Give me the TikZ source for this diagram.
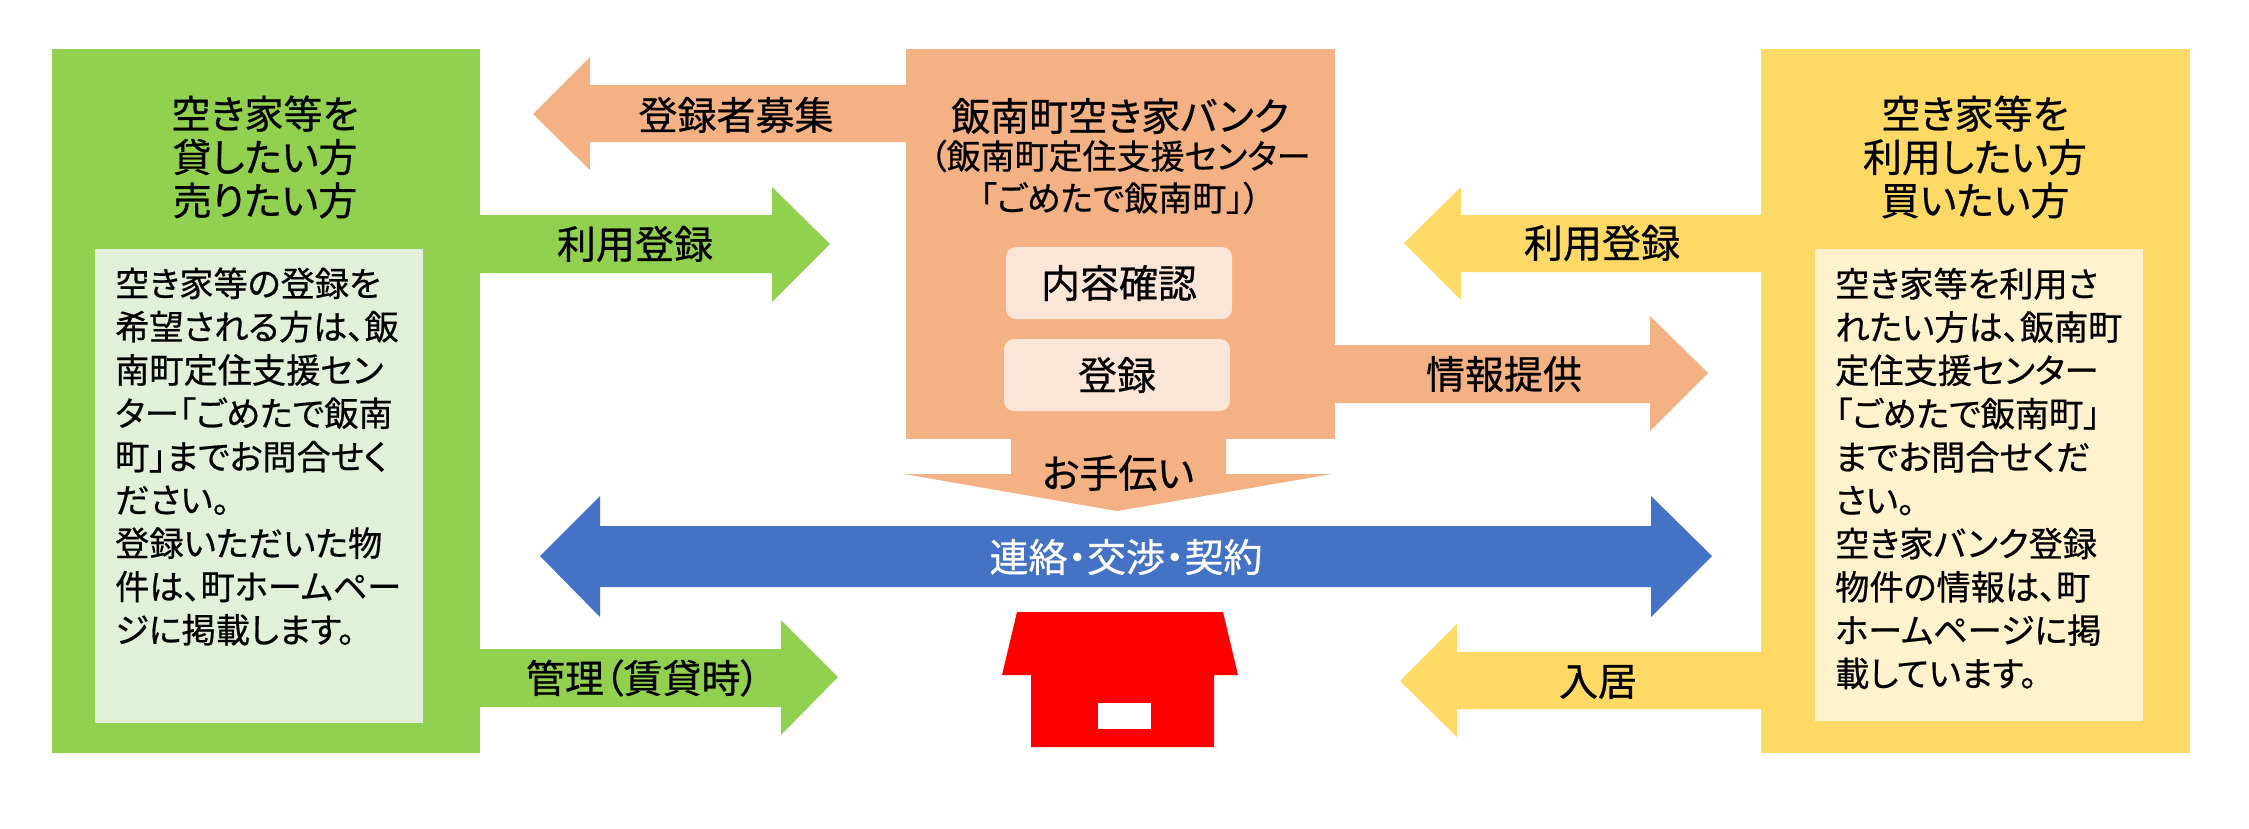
\documentclass[tikz,border=0pt]{standalone}
\usepackage{fontspec}
\setmainfont{Noto Sans CJK JP}[RawFeature=+palt,FakeBold=0.6]
\definecolor{cgreen}{HTML}{92D050}
\definecolor{lgreen}{HTML}{E2EFD9}
\definecolor{corange}{HTML}{F4B183}
\definecolor{lorange}{HTML}{FBE5D6}
\definecolor{cyellow}{HTML}{FFD966}
\definecolor{lyellow}{HTML}{FFF2CC}
\definecolor{cblue}{HTML}{4472C4}
\tikzset{
  panel/.style={inner sep=0pt,outer sep=0pt,draw=none},
  softbox/.style={panel,rounded corners=10pt,fill=lorange},
  bigtext/.style={inner sep=0pt,align=center,font=\fontsize{39}{43.3}\selectfont},
  subtext/.style={inner sep=0pt,align=center,font=\fontsize{34}{42}\selectfont},
  bodytext/.style={inner sep=0pt,align=left,anchor=west,font=\fontsize{34.2}{43.3}\selectfont},
}
\newcommand{\boxat}[7]{\node[panel,fill=#7,minimum width=#5-#3,minimum height=#6-#4,anchor=north west] (#1) at (#3,#4) {};}
\begin{document}
\begin{tikzpicture}[x=1pt,y=-1pt]
\useasboundingbox (0,0) rectangle (2249,828);
% block arrows
\fill[corange] (907,85) -- (590,85) -- (590,57) -- (533,114) -- (590,170) -- (590,142) -- (907,142) -- cycle;
\fill[cgreen] (480,215) -- (772,215) -- (772,187) -- (830,244) -- (772,302) -- (772,273) -- (480,273) -- cycle;
\fill[cgreen] (480,649) -- (781,649) -- (781,620) -- (838,677) -- (781,735) -- (781,707) -- (480,707) -- cycle;
\fill[cyellow] (1761,215) -- (1461,215) -- (1461,187) -- (1404,243) -- (1461,300) -- (1461,272) -- (1761,272) -- cycle;
\fill[cyellow] (1761,652) -- (1457,652) -- (1457,624) -- (1400,681) -- (1457,737) -- (1457,709) -- (1761,709) -- cycle;
\fill[corange] (1335,345) -- (1650,345) -- (1650,316) -- (1708,373) -- (1650,431) -- (1650,403) -- (1335,403) -- cycle;
\fill[corange] (1011,439) -- (1226,439) -- (1226,474) -- (1332,474) -- (1117,511) -- (904,474) -- (1011,474) -- cycle;
\fill[cblue] (540,556) -- (600,496) -- (600,526) -- (1651,526) -- (1651,496) -- (1712,556) -- (1651,617) -- (1651,587) -- (600,587) -- (600,617) -- cycle;
% panels
\boxat{greenbox}{}{52}{49}{480}{753}{cgreen}
\boxat{greeninner}{}{95}{249}{423}{723}{lgreen}
\boxat{yellowbox}{}{1761}{49}{2190}{753}{cyellow}
\boxat{yellowinner}{}{1815}{249}{2143}{721}{lyellow}
\boxat{bankbox}{}{906}{49}{1335}{439}{corange}
\node[softbox,minimum width=226pt,minimum height=72pt] (check) at (1119,283) {};
\node[softbox,minimum width=226pt,minimum height=72pt] (reg) at (1117,375) {};
% house
\fill[red] (1017,612) -- (1223,612) -- (1238,675) -- (1214,675) -- (1214,747) -- (1031,747) -- (1031,675) -- (1002,675) -- cycle;
\boxat{window}{}{1098}{703}{1151}{729}{white}
% texts
\node[bigtext] (gtitle) at (265,157) {空き家等を\\貸したい方\\売りたい方};
\node[bodytext] (gbody) at (115,456.5) {空き家等の登録を\\希望される方は、飯\\南町定住支援セン\\ター「ごめたで飯南\\町」までお問合せく\\ださい。\\登録いただいた物\\件は、町ホームペー\\ジに掲載します。};
\node[bigtext] (ytitle) at (1975,157) {空き家等を\\利用したい方\\買いたい方};
\node[bodytext] (ybody) at (1835,478.5) {空き家等を利用さ\\れたい方は、飯南町\\定住支援センター\\「ごめたで飯南町」\\までお問合せくだ\\さい。\\空き家バンク登録\\物件の情報は、町\\ホームページに掲\\載しています。};
\node[bigtext] (banktitle) at (1120,116) {飯南町空き家バンク};
\node[subtext] (banksub) at (1120,177) {（飯南町定住支援センター\\「ごめたで飯南町」）};
\node[bigtext] at (check) {内容確認};
\node[bigtext] at (reg) {登録};
\node[bigtext] (help) at (1118,473) {お手伝い};
\node[bigtext] (recruit) at (736,115) {登録者募集};
\node[bigtext] (useg) at (635,244) {利用登録};
\node[bigtext] (manage) at (643,678) {管理（賃貸時）};
\node[bigtext] (usey) at (1602,243) {利用登録};
\node[bigtext] (move) at (1598,682) {入居};
\node[bigtext] (info) at (1504,374) {情報提供};
\node[bigtext,text=white] (contact) at (1126,557) {連絡・交渉・契約};
\end{tikzpicture}
\end{document}
